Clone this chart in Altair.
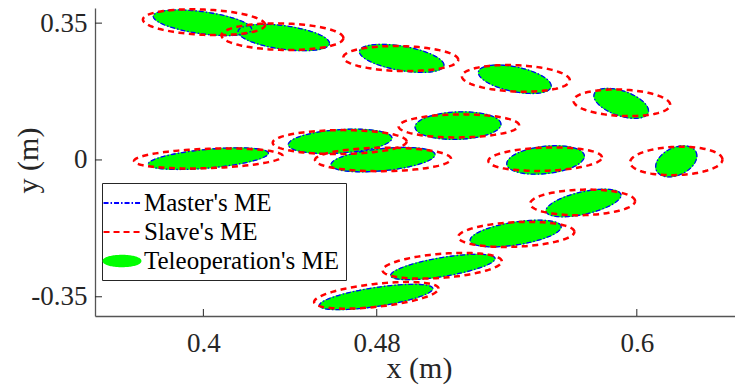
import numpy as np
import pandas as pd
import altair as alt

# ---- data (metres) ---------------------------------------------------------
# Teleoperation's manipulability ellipses (the master's ones coincide with them):
# centre, half extent along x, half extent along y, x-y correlation of the ellipse
tele_cx = [0.3996, 0.4371, 0.4915, 0.5437, 0.5928, 0.4023, 0.4631, 0.4829, 0.5175, 0.5579, 0.6182, 0.4797, 0.5105, 0.5441, 0.5754]
tele_cy = [0.3509, 0.3132, 0.2599, 0.2064, 0.1447, 0.0033, 0.0476, 0.0008, 0.0878, 0.0000, -0.0036, -0.3506, -0.2738, -0.1882, -0.1101]
tele_hx = [0.0227, 0.0211, 0.0195, 0.0168, 0.0126, 0.0277, 0.0239, 0.0240, 0.0198, 0.0179, 0.0095, 0.0262, 0.0241, 0.0210, 0.0173]
tele_hy = [0.0328, 0.0338, 0.0359, 0.0364, 0.0384, 0.0277, 0.0312, 0.0312, 0.0353, 0.0364, 0.0397, 0.0325, 0.0325, 0.0341, 0.0353]
tele_rho = [-0.50, -0.44, -0.48, -0.47, -0.50, 0.50, 0.27, 0.41, 0.10, 0.26, 0.35, 0.66, 0.66, 0.50, 0.56]

# Slave's manipulability ellipses
slave_cx = [0.4003, 0.4365, 0.4911, 0.5442, 0.5931, 0.4023, 0.4629, 0.4829, 0.5179, 0.5577, 0.6182, 0.4798, 0.5102, 0.5444, 0.5750]
slave_cy = [0.3524, 0.3153, 0.2594, 0.2087, 0.1462, 0.0038, 0.0456, 0.0013, 0.0871, 0.0020, -0.0026, -0.3463, -0.2707, -0.1905, -0.1086]
slave_hx = [0.0282, 0.0281, 0.0265, 0.0249, 0.0223, 0.0343, 0.0309, 0.0314, 0.0278, 0.0262, 0.0213, 0.0287, 0.0275, 0.0268, 0.0242]
slave_hy = [0.0330, 0.0341, 0.0320, 0.0341, 0.0341, 0.0256, 0.0307, 0.0300, 0.0295, 0.0300, 0.0364, 0.0341, 0.0328, 0.0320, 0.0328]
slave_rho = [-0.20, -0.10, -0.10, -0.15, -0.15, 0.25, 0.05, 0.05, 0.05, 0.15, 0.10, 0.50, 0.35, 0.20, 0.10]

x_ticks = [0.4, 0.48, 0.6]
y_ticks = [-0.35, 0.0, 0.35]
x_limits = [0.35, 0.6453]
y_limits = [-0.3992, 0.3887]
legend_labels = ["Master's ME", "Slave's ME", "Teleoperation's ME"]


def ellipse_outline(cx, cy, hx, hy, rho, n=121):
    t = np.linspace(0.0, 2.0 * np.pi, n)
    rows = []
    for k in range(len(cx)):
        xs = cx[k] + hx[k] * np.cos(t)
        ys = cy[k] + hy[k] * (rho[k] * np.cos(t) + np.sqrt(1 - rho[k] ** 2) * np.sin(t))
        for i in range(n):
            rows.append({"id": k, "i": i, "x": xs[i], "y": ys[i]})
    return pd.DataFrame(rows)


tele_df = ellipse_outline(tele_cx, tele_cy, tele_hx, tele_hy, tele_rho)
slave_df = ellipse_outline(slave_cx, slave_cy, slave_hx, slave_hy, slave_rho)

# ---- styling ---------------------------------------------------------------
W, H = 640, 308
SERIF = "Liberation Serif"
AX = "#262626"
xs = alt.Scale(domain=x_limits, nice=False, zero=False)
ys = alt.Scale(domain=y_limits, nice=False, zero=False)
label_expr = "datum.value < 0 ? '-' + format(-datum.value, '.2~f') : format(datum.value, '.2~f')"

x_axis = alt.Axis(values=x_ticks, title="x (m)", ticks=False, grid=False, labelExpr=label_expr,
                  labelFont=SERIF, labelFontSize=27, labelColor=AX, labelBaseline="alphabetic",
                  labelPadding=35, titleFont=SERIF, titleFontSize=30, titleFontWeight="normal",
                  titleColor=AX, titleBaseline="alphabetic", titleAlign="center", titleX=324, titleY=61,
                  domainColor="#555555", domainWidth=1.3)
y_axis = alt.Axis(values=y_ticks, title="y (m)", ticks=False, grid=False, labelExpr=label_expr,
                  labelFont=SERIF, labelFontSize=27, labelColor=AX, labelPadding=8,
                  titleFont=SERIF, titleFontSize=30, titleFontWeight="normal", titleColor=AX,
                  titleBaseline="alphabetic", titleAlign="center", titleX=-58, titleY=152,
                  domainColor="#555555", domainWidth=1.3)

base_tele = alt.Chart(tele_df)

fill_layer = base_tele.mark_line(fill="#00ff00", stroke="#00ff00", strokeWidth=1).encode(
    x=alt.X("x:Q", scale=xs, axis=x_axis),
    y=alt.Y("y:Q", scale=ys, axis=y_axis),
    detail="id:N",
    order="i:Q",
)
master_layer = base_tele.mark_line(color="#0000ff", strokeWidth=1.3, strokeDash=[5, 2, 1.5, 2]).encode(
    x=alt.X("x:Q", scale=xs), y=alt.Y("y:Q", scale=ys), detail="id:N", order="i:Q"
)
slave_layer = alt.Chart(slave_df).mark_line(color="#ff0000", strokeWidth=2.5, strokeDash=[6, 4.5]).encode(
    x=alt.X("x:Q", scale=xs), y=alt.Y("y:Q", scale=ys), detail="id:N", order="i:Q"
)

xtick_layer = alt.Chart(pd.DataFrame({"x": x_ticks})).mark_rule(color=AX, strokeWidth=1).encode(
    x=alt.X("x:Q", scale=xs), y=alt.value(H), y2=alt.value(H - 7)
)
ytick_layer = alt.Chart(pd.DataFrame({"y": y_ticks})).mark_rule(color=AX, strokeWidth=1).encode(
    y=alt.Y("y:Q", scale=ys), x=alt.value(0), x2=alt.value(7)
)

line_path = "M-1.42,0L1.42,0"
ell_path = "M-1.42,0A1.42,0.4,0,1,0,1.42,0A1.42,0.4,0,1,0,-1.42,0Z"
leg = alt.Legend(title=None, orient="none", legendX=7, legendY=175)
legend_layer = alt.Chart(pd.DataFrame({"series": legend_labels})).mark_point(clip=True, opacity=1).encode(
    x=alt.value(-200), y=alt.value(-200),
    shape=alt.Shape("series:N", scale=alt.Scale(domain=legend_labels, range=[line_path, line_path, ell_path]), legend=leg),
    stroke=alt.Stroke("series:N", scale=alt.Scale(domain=legend_labels, range=["#0000ff", "#ff0000", "#00ff00"]), legend=leg),
    fill=alt.Fill("series:N", scale=alt.Scale(domain=legend_labels, range=["transparent", "transparent", "#00ff00"]), legend=leg),
    strokeDash=alt.StrokeDash("series:N", scale=alt.Scale(domain=legend_labels, range=[[5, 2, 1.5, 2], [6, 4], [1, 0]]), legend=leg),
)

chart = alt.layer(fill_layer, master_layer, slave_layer, xtick_layer, ytick_layer, legend_layer).properties(
    width=W, height=H,
    padding={"left": 87, "top": 0, "right": 0, "bottom": 69},
    autosize=alt.AutoSizeParams(type="none"),
    background="white",
).configure_view(stroke=None).configure_legend(
    labelFont=SERIF, labelFontSize=25, labelColor="black", labelLimit=400, labelOffset=8,
    symbolSize=676, symbolStrokeWidth=2, padding=6, rowPadding=2,
    strokeColor=AX, fillColor="white", cornerRadius=0,
)

chart.save("out.html", embed_options={"renderer": "svg", "actions": False})
